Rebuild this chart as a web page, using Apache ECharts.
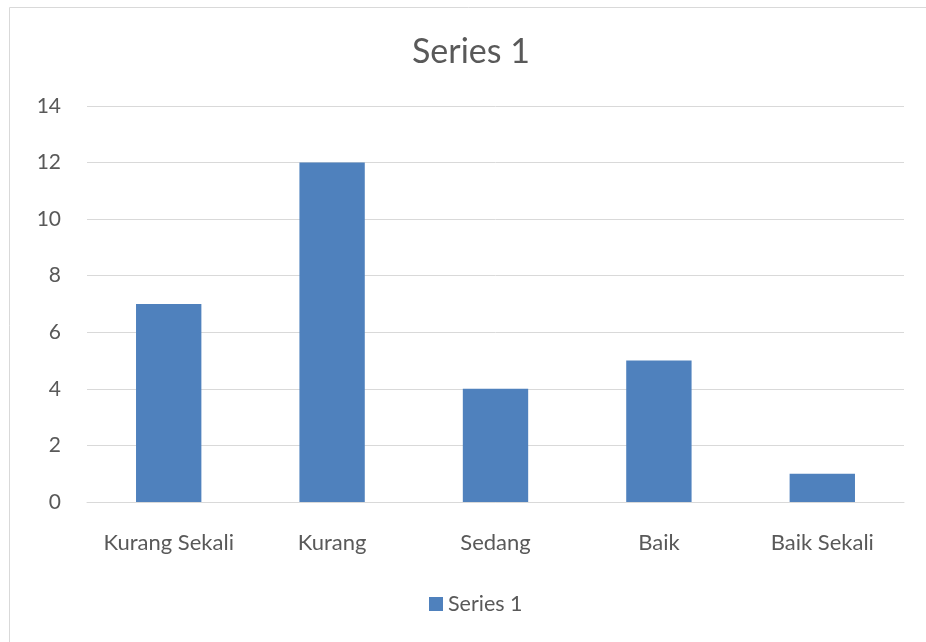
<!DOCTYPE html>
<html><head><meta charset="utf-8">
<script src="https://cdn.jsdelivr.net/npm/echarts@6/dist/echarts.min.js"></script>
<style>html,body{margin:0;padding:0;background:#fff}#c{width:926px;height:642px}</style>
</head><body><div id="c"></div>
<script>
const categories = ['Kurang Sekali', 'Kurang', 'Sedang', 'Baik', 'Baik Sekali'];
const series1 = [7, 12, 4, 5, 1];
const yTicks = { min: 0, max: 14, interval: 2 };
const seriesName = 'Series 1';

const chart = echarts.init(document.getElementById('c'));
const font = 'Lato, "Open Sans", sans-serif';
chart.setOption({
  animation: false,
  graphic: [{ type: 'rect', shape: { x: 9.5, y: 7.5, width: 930, height: 650 }, style: { fill: 'none', stroke: '#d9d9d9', lineWidth: 1 }, z: -1 }],
  title: { text: seriesName, left: 407, top: 30, textStyle: { fontFamily: font, fontSize: 34, fontWeight: 'normal', color: '#595959' } },
  legend: { bottom: 22, left: 424, itemWidth: 14, itemHeight: 14, icon: 'rect', itemGap: 5,
    textStyle: { fontFamily: font, fontSize: 21.5, color: '#595959' }, data: [seriesName] },
  grid: { left: 87, right: 22, top: 106, bottom: 140 },
  xAxis: { type: 'category', data: categories,
    axisLine: { lineStyle: { color: '#d9d9d9' } }, axisTick: { show: false },
    axisLabel: { interval: 0, fontFamily: font, fontSize: 22, color: '#595959', margin: 30 } },
  yAxis: { type: 'value', min: yTicks.min, max: yTicks.max, interval: yTicks.interval,
    axisLine: { show: false }, axisTick: { show: false },
    splitLine: { lineStyle: { color: '#d9d9d9' } },
    axisLabel: { fontFamily: font, fontSize: 21, color: '#595959', margin: 26 } },
  series: [{ name: seriesName, type: 'bar', data: series1, barWidth: '40%', itemStyle: { color: '#4f81bd' } }]
});
</script></body></html>
